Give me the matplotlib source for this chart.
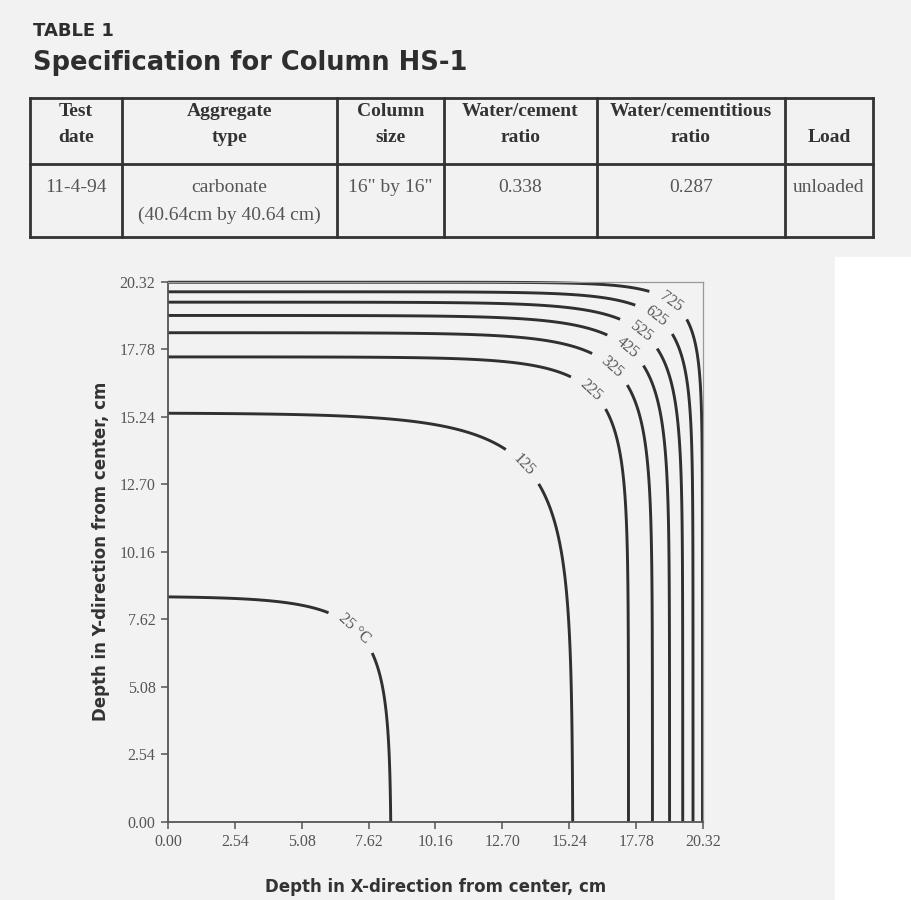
import numpy as np
import matplotlib.pyplot as plt
from matplotlib.patches import Rectangle

plt.rcParams['font.family'] = ['Liberation Serif', 'DejaVu Serif']

# Table 1 contents
table_title = "TABLE 1"
table_subtitle = "Specification for Column HS-1"
header_top = ["Test", "Aggregate", "Column", "Water/cement", "Water/cementitious", ""]
header_bottom = ["date", "type", "size", "ratio", "ratio", "Load"]
row_top = ["11-4-94", "carbonate", '16" by 16"', "0.338", "0.287", "unloaded"]
row_bottom = ["", "(40.64cm by 40.64 cm)", "", "", "", ""]

# Isotherms of column HS-1, quarter section measured from the column center (cm)
half_width = 20.32
iso_levels = [25, 125, 225, 325, 425, 525, 625, 725]
iso_labels = ["25 °C", "125", "225", "325", "425", "525", "625", "725"]
iso_on_axis = [8.48, 15.38, 17.49, 18.40, 19.05, 19.55, 19.94, 20.30]   # where each isotherm meets x = 0 / y = 0
iso_on_diag = [7.18, 13.48, 16.15, 17.00, 17.66, 18.23, 18.80, 19.36]   # where each isotherm meets x = y
ticks = [0.00, 2.54, 5.08, 7.62, 10.16, 12.70, 15.24, 17.78, 20.32]

# where the inline labels sit
label_pos = [(7.09, 7.28), (13.53, 13.43), (16.08, 16.26), (16.88, 17.14),
             (17.45, 17.83), (17.96, 18.46), (18.55, 19.02), (19.16, 19.65)]

fig = plt.figure(figsize=(9.11, 9.0), dpi=100, facecolor='#f2f2f2')
fig.patches.append(Rectangle((835 / 911, 0), 1 - 835 / 911, 1 - 257 / 900,
                             transform=fig.transFigure, color='white', zorder=-1))

# ---- table drawn in pixel coordinates ----
tab = fig.add_axes([0, 0, 1, 1])
tab.set_xlim(0, 911)
tab.set_ylim(900, 0)
tab.axis('off')

tab.text(33, 36, table_title, family='DejaVu Sans', weight='heavy', fontsize=13,
         color='#2e2e2e', va='baseline')
tab.text(33, 70, table_subtitle, family='DejaVu Sans', weight='heavy', fontsize=18.5,
         color='#2e2e2e', va='baseline')

col_edges = [30, 122, 337, 444, 597, 785, 873]
row_edges = [98, 164, 237]
line_kw = dict(color='#333333', lw=2.0, solid_capstyle='projecting')
for yy in row_edges:
    tab.plot([col_edges[0], col_edges[-1]], [yy, yy], **line_kw)
for xx in col_edges:
    tab.plot([xx, xx], [row_edges[0], row_edges[-1]], **line_kw)

for i in range(len(header_top)):
    xc = (col_edges[i] + col_edges[i + 1]) / 2
    tab.text(xc, 112, header_top[i], ha='center', va='center', weight='bold',
             fontsize=14, color='#333333')
    tab.text(xc, 137, header_bottom[i], ha='center', va='center', weight='bold',
             fontsize=14, color='#333333')
    tab.text(xc, 188, row_top[i], ha='center', va='center', fontsize=14, color='#555555')
    tab.text(xc, 215, row_bottom[i], ha='center', va='center', fontsize=14, color='#555555')

# ---- isotherm plot ----
ax = fig.add_axes([168 / 911, 1 - 821.7 / 900, (703 - 168) / 911, (821.7 - 281.7) / 900])
ax.set_facecolor('none')

grid = np.linspace(0, half_width, 1500)
X, Y = np.meshgrid(grid, grid)
a = half_width - X   # distance from the heated face in x
b = half_width - Y   # distance from the heated face in y

for lev_text, e_axis, e_diag, pos in zip(iso_labels, iso_on_axis, iso_on_diag, label_pos):
    m = half_width - e_axis
    c = half_width - e_diag
    tau = (c - m) / np.log(2)
    # smooth minimum of the two face distances; equals m far from the corner, c on the diagonal
    depth = -tau * np.logaddexp(-a / tau, -b / tau)
    cs = ax.contour(X, Y, depth, levels=[m], colors='#303030', linewidths=2.1)
    cs.set_clip_on(False)
    ax.clabel(cs, fmt=lambda v, s=lev_text: s, manual=[pos], inline=True,
              inline_spacing=12, fontsize=11.5, colors='#555555')

ax.set_xlim(0, half_width)
ax.set_ylim(0, half_width)
ax.set_xticks(ticks)
ax.set_yticks(ticks)
ax.set_xticklabels([f'{t:.2f}' for t in ticks])
ax.set_yticklabels([f'{t:.2f}' for t in ticks])
ax.tick_params(direction='out', length=5, width=1.1, color='#555555',
               labelcolor='#555555', labelsize=11.5, pad=4)
for s in ['left', 'bottom']:
    ax.spines[s].set_color('#555555')
    ax.spines[s].set_linewidth(1.3)
for s in ['top', 'right']:
    ax.spines[s].set_color('#999999')
    ax.spines[s].set_linewidth(0.9)

ax.set_xlabel('Depth in X-direction from center, cm', family='DejaVu Sans',
              weight='heavy', fontsize=12, color='#333333', labelpad=20)
ax.set_ylabel('Depth in Y-direction from center, cm', family='DejaVu Sans',
              weight='heavy', fontsize=12, color='#333333', labelpad=7)

fig.savefig('out.png', dpi=100, facecolor=fig.get_facecolor())
